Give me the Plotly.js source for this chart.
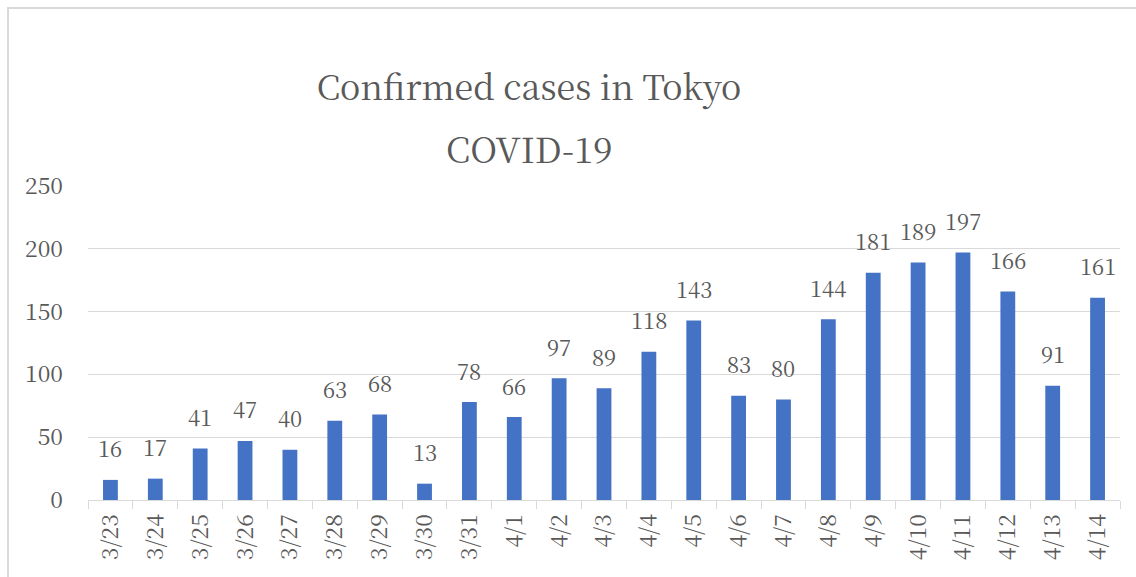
<!DOCTYPE html>
<html>
<head>
<meta charset="utf-8">
<script src="https://cdn.plot.ly/plotly-3.0.1.min.js"></script>
<style>
html,body{margin:0;padding:0;overflow:hidden;background:#fff;width:1136px;height:577px;}
#frame{position:absolute;left:7px;top:7px;width:1300px;height:700px;border:2px solid #d9d9d9;box-sizing:border-box;}
#chart{position:absolute;left:0;top:0;width:1136px;height:577px;}
</style>
</head>
<body>
<div id="frame"></div>
<div id="chart"></div>
<script>
const dates = ["3/23","3/24","3/25","3/26","3/27","3/28","3/29","3/30","3/31","4/1","4/2","4/3","4/4","4/5","4/6","4/7","4/8","4/9","4/10","4/11","4/12","4/13","4/14"];
const cases = [16,17,41,47,40,63,68,13,78,66,97,89,118,143,83,80,144,181,189,197,166,91,161];
const yTicks = [0,50,100,150,200,250];
const titleLine1 = "Confirmed cases in Tokyo";
const titleLine2 = "COVID-19";

const serif = "Noto Serif CJK JP";
const gray = "#595959";

const trace = {
  type: "bar",
  x: dates,
  y: cases,
  marker: {color: "#4472C4"},
  hoverinfo: "x+y"
};

const labelAnns = dates.map((d, i) => ({
  x: d, y: cases[i], xref: "x", yref: "y",
  text: String(cases[i]),
  showarrow: false,
  yanchor: "middle",
  yshift: 32,
  font: {family: serif, size: 22, color: gray}
}));

const layout = {
  width: 1136, height: 577,
  margin: {l: 88, r: 16, t: 186, b: 77, pad: 0},
  paper_bgcolor: "rgba(0,0,0,0)",
  plot_bgcolor: "rgba(0,0,0,0)",
  bargap: 0.67,
  showlegend: false,
  font: {family: serif, color: gray},
  title: {
    text: titleLine1,
    xref: "container", yref: "container",
    x: 529/1136, xanchor: "center",
    y: 1 - 88/577, yanchor: "middle",
    font: {family: serif, size: 34, color: gray}
  },
  xaxis: {
    type: "category",
    tickangle: -90,
    tickson: "boundaries",
    ticks: "outside",
    ticklen: 8,
    tickcolor: "#d9d9d9",
    showline: true,
    linecolor: "#d9d9d9",
    linewidth: 1,
    showgrid: false,
    ticklabelstandoff: 4,
    tickfont: {family: serif, size: 23, color: gray},
    fixedrange: true
  },
  yaxis: {
    range: [0, 250],
    tickvals: yTicks,
    ticktext: yTicks.map(String),
    showgrid: true,
    gridcolor: "#d9d9d9",
    gridwidth: 1,
    zeroline: false,
    showline: false,
    ticks: "",
    ticklabelstandoff: 24,
    tickfont: {family: serif, size: 23, color: gray},
    fixedrange: true
  },
  annotations: [
    {
      text: titleLine2, xref: "paper", yref: "paper",
      x: (529-88)/1032, y: (500-148)/314,
      xanchor: "center", yanchor: "middle", showarrow: false,
      font: {family: serif, size: 35, color: gray}
    }
  ].concat(labelAnns)
};

Plotly.newPlot("chart", [trace], layout, {displayModeBar: false, responsive: false});
</script>
</body>
</html>
